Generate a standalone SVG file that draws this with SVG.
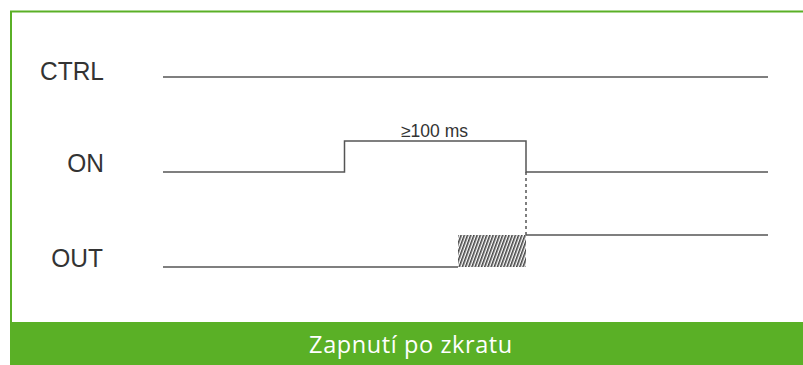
<svg xmlns="http://www.w3.org/2000/svg" width="803" height="365" viewBox="0 0 803 365">
<style>
.lbl{font-family:"Liberation Sans",Arial,sans-serif;font-size:24.5px;fill:#333}
.sig{fill:none;stroke:#555;stroke-width:1.5}
</style>
<defs>
<pattern id="hatch" width="3" height="3" patternUnits="userSpaceOnUse" patternTransform="rotate(20)">
<rect width="3" height="3" fill="#fff"/>
<rect width="1.6" height="3" fill="#444"/>
</pattern>
</defs>
<rect width="803" height="365" fill="#fff"/>
<rect x="11" y="11.5" width="800" height="330" fill="#fff" stroke="#5ab026" stroke-width="2"/>
<rect x="10" y="322" width="793" height="43" fill="#5ab026"/>
<text x="411" y="353" text-anchor="middle" style="font-family:'Open Sans',sans-serif;font-size:23.5px;letter-spacing:0.6px;fill:#fff">Zapnutí po zkratu</text>
<g id="labels">
<text class="lbl" transform="translate(104,79.5) scale(1,1.07)" text-anchor="end">CTRL</text>
<text class="lbl" transform="translate(104,172.3) scale(1,1.07)" text-anchor="end">ON</text>
<text class="lbl" transform="translate(103,266.7) scale(1,1.07)" text-anchor="end">OUT</text>
<text x="434.5" y="137" text-anchor="middle" style="font-family:'Liberation Sans',Arial,sans-serif;font-size:17.5px;fill:#333">≥100 ms</text>
</g>
<g id="signals">
<path class="sig" d="M163 77H768"/>
<path class="sig" d="M163 172H344.5V141H526V172H768"/>
<rect x="458" y="235" width="68" height="32" fill="url(#hatch)"/>
<path class="sig" d="M163 267H458"/>
<path class="sig" d="M526 235H768"/>
<path d="M526 172V235" fill="none" stroke="#555" stroke-width="1.5" stroke-dasharray="3,3"/>
</g>
</svg>
